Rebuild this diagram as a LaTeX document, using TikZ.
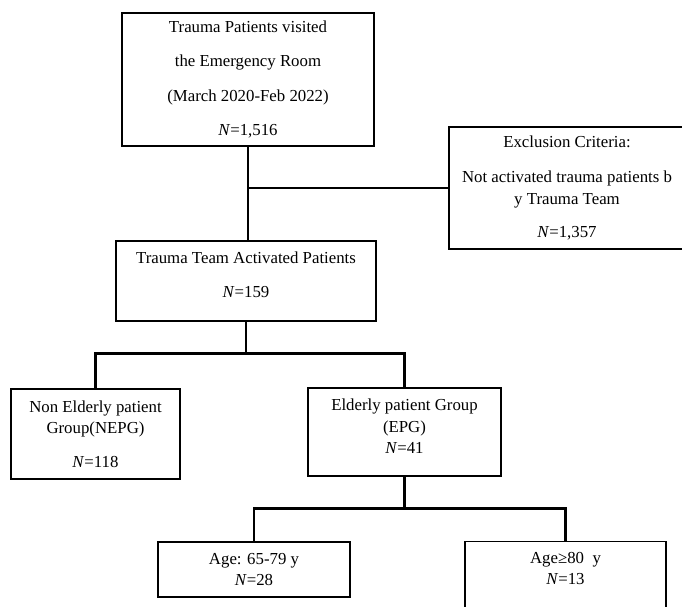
\documentclass[tikz,border=0pt]{standalone}
\usepackage{fontspec}
\setmainfont{Liberation Serif}

\begin{document}
\begin{tikzpicture}[x=1pt, y=-1pt, thick,
    box/.style = {draw, line width=1.3pt, align=center, inner sep=0pt, font=\fontsize{16.8}{21.5}\selectfont},
    txt/.style = {align=center, inner sep=0pt, font=\fontsize{16.8}{21.5}\selectfont},
    link/.style = {draw, line width=2.5pt}]
  \useasboundingbox (0,0) rectangle (682,607);
  % boxes
  \node[box, minimum width=252, minimum height=133] (visit) at (248,79.5)
    {Trauma Patients visited\\[13pt] the Emergency Room\\[13pt] (March 2020-Feb 2022)\\[13pt] \textit{N}=1,516};
  \node[box, minimum width=236, minimum height=122] (excl) at (567,188)
    {Exclusion Criteria:\\[13.5pt] Not activated trauma patients b\\ y Trauma Team\\[11.5pt] \textit{N}=1,357};
  \node[box, minimum width=260, minimum height=80,
    label={[txt, yshift=6pt]center:{Trauma Team Activated Patients\\[12.5pt] \textit{N}=159}}] (ttap) at (246,281) {};
  \node[box, minimum width=169, minimum height=90] (nepg) at (95.5,434)
    {Non Elderly patient\\ Group(NEPG)\\[12.5pt] \textit{N}=118};
  \node[box, minimum width=193, minimum height=88,
    label={[txt, yshift=5.5pt]center:{Elderly patient Group\\ (EPG)\\ \textit{N}=41}}] (epg) at (404.5,432) {};
  \node[box, minimum width=192, minimum height=55] (young) at (254,569.5)
    {Age: 65-79 y\\ \textit{N}=28};
  \node[box, minimum width=201, minimum height=90, anchor=north,
    label={[txt, yshift=18pt]center:{Age≥80\ \ y\\ \textit{N}=13}}] (old) at (565.5,541) {};
  % connectors
  \draw[link] (visit.south) -- (visit.south |- ttap.north);
  \draw[link] (excl.west) -- (excl.west -| visit.south);
  \draw[link] (ttap.south) -- ++(0,32) -| (nepg.north);
  \draw[link] (ttap.south) -- ++(0,32) -| (epg.north);
  \draw[link] (epg.south) -- ++(0,32) -| (young.north);
  \draw[link] (epg.south) -- ++(0,32) -| (old.north);
\end{tikzpicture}
\end{document}
